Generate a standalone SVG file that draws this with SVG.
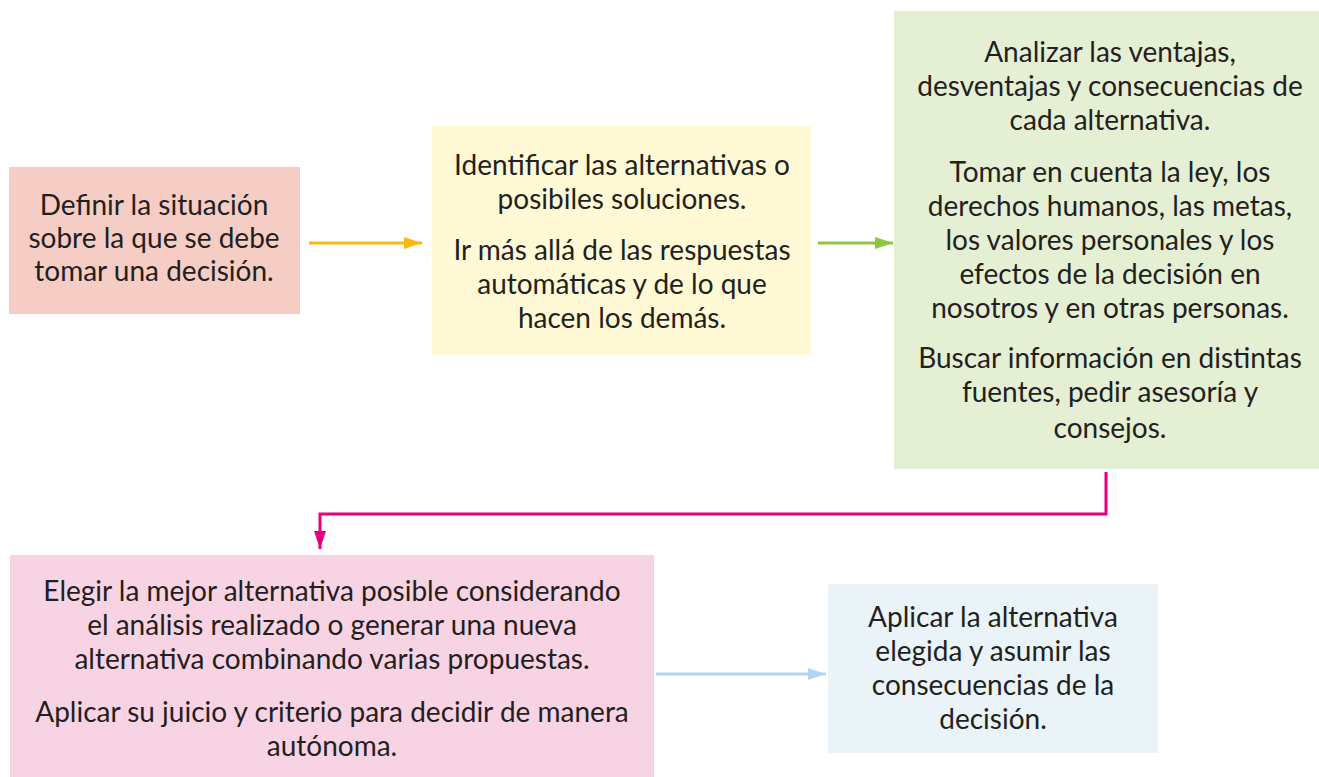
<svg xmlns="http://www.w3.org/2000/svg" width="1319" height="777" viewBox="0 0 1319 777">
<defs>
<style>
text{font-family:Lato,"Open Sans","Liberation Sans",sans-serif;font-size:28px;fill:#231f20;text-anchor:middle}
</style>
<marker id="ay" viewBox="0 0 18 12" refX="18" refY="6" markerWidth="18" markerHeight="12" markerUnits="userSpaceOnUse" orient="auto"><path d="M0,0 L18,6 L0,12 Z" fill="#fbb810"/></marker>
<marker id="ag" viewBox="0 0 18 12" refX="18" refY="6" markerWidth="18" markerHeight="12" markerUnits="userSpaceOnUse" orient="auto"><path d="M0,0 L18,6 L0,12 Z" fill="#8cc63f"/></marker>
<marker id="am" viewBox="0 0 18 12" refX="18" refY="6" markerWidth="18" markerHeight="12" markerUnits="userSpaceOnUse" orient="auto"><path d="M0,0 L18,6 L0,12 Z" fill="#e5007e"/></marker>
<marker id="ab" viewBox="0 0 18 12" refX="18" refY="6" markerWidth="18" markerHeight="12" markerUnits="userSpaceOnUse" orient="auto"><path d="M0,0 L18,6 L0,12 Z" fill="#b3d6f0"/></marker>
</defs>
<rect width="1319" height="777" fill="#ffffff"/>
<g id="n1">
<rect x="9" y="167" width="291" height="147" fill="#f6cdc4"/>
<text x="154" y="215">Definir la situación</text>
<text x="154" y="248">sobre la que se debe</text>
<text x="154" y="281">tomar una decisión.</text>
</g>
<g id="n2">
<rect x="432" y="126" width="379" height="229" fill="#fffad5"/>
<text x="622" y="175">Identificar las alternativas o</text>
<text x="622" y="209">posibiles soluciones.</text>
<text x="622" y="260">Ir más allá de las respuestas</text>
<text x="622" y="294">automáticas y de lo que</text>
<text x="622" y="328">hacen los demás.</text>
</g>
<g id="n3">
<rect x="894" y="11" width="425" height="458" fill="#e5efd4"/>
<text x="1110" y="62">Analizar las ventajas,</text>
<text x="1110" y="96">desventajas y consecuencias de</text>
<text x="1110" y="130">cada alternativa.</text>
<text x="1110" y="182">Tomar en cuenta la ley, los</text>
<text x="1110" y="216">derechos humanos, las metas,</text>
<text x="1110" y="250">los valores personales y los</text>
<text x="1110" y="284">efectos de la decisión en</text>
<text x="1110" y="318">nosotros y en otras personas.</text>
<text x="1110" y="368">Buscar información en distintas</text>
<text x="1110" y="402">fuentes, pedir asesoría y</text>
<text x="1110" y="438">consejos.</text>
</g>
<g id="n4">
<rect x="10" y="555" width="644" height="222" fill="#f8d3e3"/>
<text x="332" y="601">Elegir la mejor alternativa posible considerando</text>
<text x="332" y="635">el análisis realizado o generar una nueva</text>
<text x="332" y="669">alternativa combinando varias propuestas.</text>
<text x="332" y="722">Aplicar su juicio y criterio para decidir de manera</text>
<text x="332" y="756">autónoma.</text>
</g>
<g id="n5">
<rect x="828" y="584" width="330" height="169" fill="#eaf4f8"/>
<text x="993" y="627">Aplicar la alternativa</text>
<text x="993" y="661">elegida y asumir las</text>
<text x="993" y="695">consecuencias de la</text>
<text x="993" y="729">decisión.</text>
</g>
<g id="connectors" fill="none" stroke-width="3">
<path d="M309,243 H422" stroke="#fbb810" marker-end="url(#ay)"/>
<path d="M818,243 H893" stroke="#8cc63f" marker-end="url(#ag)"/>
<path d="M1106,472 V514 H320 V549" stroke="#e5007e" marker-end="url(#am)"/>
<path d="M656,674 H826" stroke="#b3d6f0" marker-end="url(#ab)"/>
</g>
</svg>
